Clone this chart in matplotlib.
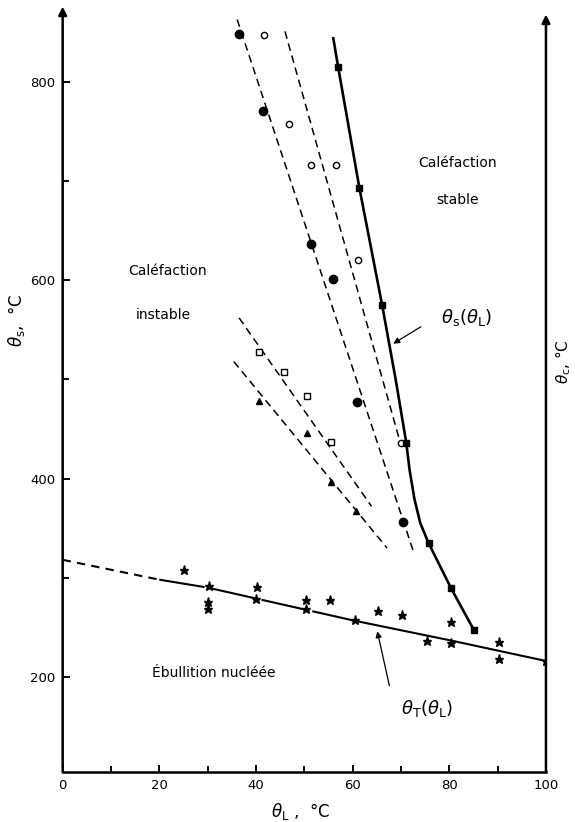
import numpy as np
import matplotlib.pyplot as plt

plt.rcParams['font.family'] = ['DejaVu Sans']
plt.rcParams['mathtext.fontset'] = 'dejavusans'

# ---- données ----
# points ● (ligne tiretée 1)
circ_f_x = [36.4, 41.4, 51.4, 55.9, 61.0, 70.5]
circ_f_y = [848, 771, 637, 601, 477, 356]
# points ○ (ligne tiretée 2)
circ_o_x = [41.7, 46.8, 51.4, 56.5, 61.1, 70.0]
circ_o_y = [847, 758, 716, 716, 620, 436]
# points □
sq_o_x = [40.7, 45.8, 50.6, 55.6]
sq_o_y = [528, 507, 483, 437]
# points ▲
tri_x = [40.7, 50.6, 55.5, 60.7]
tri_y = [478, 446, 397, 367]
# courbe θs(θL), points ■
sq_f_x = [57.0, 61.4, 66.1, 71.1, 75.7, 80.3, 85.1]
sq_f_y = [815, 693, 575, 436, 335, 290, 247]
theta_s_x = [56.0, 57.0, 61.4, 66.1, 68.9, 71.1, 71.8, 72.8, 74.0, 75.7, 80.3, 85.1]
theta_s_y = [844, 815, 693, 575, 500, 436, 408, 379, 355, 335, 290, 247]
# droites tiretées
line1_x, line1_y = [36.1, 72.6], [863, 326]
line2_x, line2_y = [46.0, 69.8], [851, 437]
line3_x, line3_y = [36.5, 63.9], [562, 372]
line4_x, line4_y = [35.4, 67.1], [518, 330]
# courbe θT(θL)
tT_dash_x, tT_dash_y = [0, 20], [318, 298]
tT_long_x, tT_long_y = [20, 30, 40, 50, 60], [298, 290, 279, 268, 257]
tT_solid_x, tT_solid_y = [60, 80, 100], [257, 237, 216]
# points ★
star_x = [25.1, 30.2, 30.0, 30.0, 40.3, 40.1, 50.4, 50.3, 55.3, 60.4,
          65.3, 70.3, 75.4, 80.3, 80.4, 90.2, 90.2, 100]
star_y = [308, 292, 275, 268, 291, 278, 277, 268, 277, 257,
          266, 262, 236, 255, 234, 235, 218, 216]

fig = plt.figure(figsize=(5.75, 8.22), dpi=100)
ax = fig.add_axes([0.109, 0.0608, 0.8405, 0.930])
ax.set_xlim(0, 100)
ax.set_ylim(104, 875)

# axes
for s in ['top', 'right', 'left']:
    ax.spines[s].set_visible(False)
ax.spines['bottom'].set_linewidth(1.8)
ax.annotate('', xy=(0, 876), xytext=(0, 104),
            arrowprops=dict(arrowstyle='-|>', lw=1.8, color='k', mutation_scale=12,
                            shrinkA=0, shrinkB=0), annotation_clip=False)
ax.annotate('', xy=(100, 868), xytext=(100, 104),
            arrowprops=dict(arrowstyle='-|>', lw=1.8, color='k', mutation_scale=12,
                            shrinkA=0, shrinkB=0), annotation_clip=False)

ax.set_xticks(np.arange(0, 101, 20))
ax.set_xticks(np.arange(10, 100, 20), minor=True)
ax.set_yticks([200, 400, 600, 800])
ax.set_yticks([300, 500, 700], minor=True)
ax.tick_params(which='both', direction='in', width=1.4, labelsize=9.5, pad=5)
ax.tick_params(which='major', length=5)
ax.tick_params(which='minor', length=4)

dash_kw = dict(color='k', lw=1.1, dashes=(5, 3.2))
ax.plot(line1_x, line1_y, **dash_kw)
ax.plot(line2_x, line2_y, **dash_kw)
ax.plot(line3_x, line3_y, **dash_kw)
ax.plot(line4_x, line4_y, **dash_kw)

ax.plot(theta_s_x, theta_s_y, color='k', lw=1.9)
ax.plot(tT_dash_x, tT_dash_y, color='k', lw=1.5, dashes=(4, 3))
ax.plot(tT_long_x, tT_long_y, color='k', lw=1.5, dashes=(22, 3))
ax.plot(tT_solid_x, tT_solid_y, color='k', lw=1.5)

ax.plot(circ_f_x, circ_f_y, 'o', color='k', ms=6, zorder=5)
ax.plot(circ_o_x, circ_o_y, 'o', mfc='white', mec='k', mew=1, ms=4.5, zorder=5)
ax.plot(sq_o_x, sq_o_y, 's', mfc='white', mec='k', mew=1, ms=4.5, zorder=5)
ax.plot(tri_x, tri_y, '^', color='k', ms=5, zorder=5)
ax.plot(sq_f_x, sq_f_y, 's', color='k', ms=4.5, zorder=5)
ax.plot(star_x, star_y, '*', color='k', ms=6.5, zorder=5)

# textes
ax.text(21.6, 609, 'Caléfaction', ha='center', va='center', fontsize=10)
ax.text(20.9, 565, 'instable', ha='center', va='center', fontsize=10)
ax.text(81.7, 718, 'Caléfaction', ha='center', va='center', fontsize=10)
ax.text(81.8, 681, 'stable', ha='center', va='center', fontsize=10)
ax.text(31.2, 204, 'Ébullition nucléée', ha='center', va='center', fontsize=10)

ax.text(83.5, 562, r'$\theta_\mathrm{s}(\theta_\mathrm{L})$', ha='center', va='center', fontsize=13)
ax.annotate('', xy=(68.4, 536), xytext=(74.1, 553),
            arrowprops=dict(arrowstyle='-|>', lw=0.9, color='k', mutation_scale=9,
                            shrinkA=0, shrinkB=0))
ax.text(75.5, 168, r'$\theta_\mathrm{T}(\theta_\mathrm{L})$', ha='center', va='center', fontsize=13)
ax.annotate('', xy=(65.1, 246), xytext=(67.6, 191),
            arrowprops=dict(arrowstyle='-|>', lw=0.9, color='k', mutation_scale=9,
                            shrinkA=0, shrinkB=0))

ax.text(-9.5, 560, r'$\theta_\mathrm{s}$,  °C', rotation=90, ha='center', va='center',
        fontsize=12, clip_on=False)
ax.text(103.6, 518, r'$\theta_\mathrm{c}$, °C', rotation=90, ha='center', va='center',
        fontsize=11, clip_on=False)
ax.text(49.3, 64, r'$\theta_\mathrm{L}$ ,  °C', ha='center', va='center',
        fontsize=12, clip_on=False)

plt.savefig('out.png', dpi=100)
